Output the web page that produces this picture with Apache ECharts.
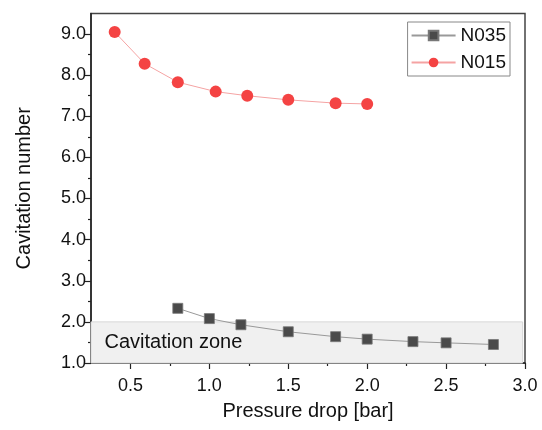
<!DOCTYPE html>
<html><head><meta charset="utf-8">
<script src="https://cdn.jsdelivr.net/npm/echarts@6/dist/echarts.min.js"></script>
<style>html,body{margin:0;padding:0;background:#fff}#c{width:542px;height:430px}</style>
</head><body><div id="c"></div>
<script>
const n035X = [0.8, 1.0, 1.2, 1.5, 1.8, 2.0, 2.29, 2.5, 2.8];
const n035Y = [2.33, 2.08, 1.93, 1.76, 1.64, 1.58, 1.52, 1.49, 1.45];
const n015X = [0.4, 0.59, 0.8, 1.04, 1.24, 1.5, 1.8, 2.0];
const n015Y = [9.05, 8.28, 7.83, 7.60, 7.50, 7.40, 7.32, 7.30];
const xMajor = [0.5, 1.0, 1.5, 2.0, 2.5, 3.0];
const xMinor = [0.75, 1.25, 1.75, 2.25, 2.75];
const yMajor = [1, 2, 3, 4, 5, 6, 7, 8, 9];
const yMinor = [1.5, 2.5, 3.5, 4.5, 5.5, 6.5, 7.5, 8.5];
const zone = {x0: 0.25, x1: 2.985, y0: 1, y1: 2, label: 'Cavitation zone'};

const FONT = 'Liberation Sans';
const axisCol = '#222';
const chart = echarts.init(document.getElementById('c'));
const pairs = (xs, ys) => xs.map((x, i) => [x, ys[i]]);
const xBase = {type: 'value', min: 0.25, max: 3.0, gridIndex: 0};
const yBase = {type: 'value', min: 1.0, max: 9.5, gridIndex: 0};
chart.setOption({
  animation: false,
  textStyle: {fontFamily: FONT},
  grid: {left: 91, top: 13.5, right: 17, bottom: 67, show: true, borderColor: '#444', borderWidth: 1.5, backgroundColor: 'transparent'},
  legend: {
    right: 32, top: 22, orient: 'vertical', itemWidth: 44, itemHeight: 12, itemGap: 8,
    borderColor: '#888', borderWidth: 1, padding: [4, 4, 4, 3],
    textStyle: {fontFamily: FONT, fontSize: 19, color: '#111'},
    data: ['N035', 'N015']
  },
  xAxis: [
    Object.assign({}, xBase, {
      name: 'Pressure drop [bar]', nameLocation: 'middle', nameGap: 38,
      nameTextStyle: {fontFamily: FONT, fontSize: 20, color: '#111'},
      axisLine: {lineStyle: {color: axisCol, width: 1.5}},
      axisTick: {show: true, length: 6, lineStyle: {color: axisCol, width: 1.2}, customValues: xMajor},
      axisLabel: {customValues: xMajor, fontSize: 18, color: '#111', margin: 14, formatter: v => v.toFixed(1)},
      splitLine: {show: false}
    }),
    Object.assign({}, xBase, {
      position: 'bottom',
      axisLine: {show: false},
      axisTick: {show: true, length: 3, lineStyle: {color: axisCol, width: 1.2}, customValues: xMinor},
      axisLabel: {show: false},
      splitLine: {show: false}
    })
  ],
  yAxis: [
    Object.assign({}, yBase, {
      name: 'Cavitation number', nameLocation: 'middle', nameGap: 57,
      nameTextStyle: {fontFamily: FONT, fontSize: 20, color: '#111'},
      axisLine: {lineStyle: {color: axisCol, width: 1.5}},
      axisTick: {show: true, length: 6, lineStyle: {color: axisCol, width: 1.2}, customValues: yMajor},
      axisLabel: {customValues: yMajor, fontSize: 18, color: '#111', margin: 5, formatter: v => v.toFixed(1)},
      splitLine: {show: false}
    }),
    Object.assign({}, yBase, {
      position: 'left',
      axisLine: {show: false},
      axisTick: {show: true, length: 3, lineStyle: {color: axisCol, width: 1.2}, customValues: yMinor},
      axisLabel: {show: false},
      splitLine: {show: false}
    })
  ],
  series: [
    {
      name: 'N035', type: 'line', data: pairs(n035X, n035Y),
      symbol: 'rect', symbolSize: 10,
      itemStyle: {color: '#4a4a4a', borderColor: '#777', borderWidth: 0.8},
      lineStyle: {color: '#999', width: 1},
      z: 3,
      markArea: {
        silent: true,
        itemStyle: {color: '#f0f0f0', borderColor: '#d6d6d6', borderWidth: 1},
        label: {show: true, position: 'insideLeft', distance: 14, fontFamily: FONT, fontSize: 20, color: '#111'},
        data: [[{name: zone.label, coord: [zone.x0, zone.y0]}, {coord: [zone.x1, zone.y1]}]]
      }
    },
    {
      name: 'N015', type: 'line', data: pairs(n015X, n015Y),
      symbol: 'circle', symbolSize: 12,
      itemStyle: {color: '#f44343'},
      lineStyle: {color: '#f5a3a3', width: 1},
      z: 3
    }
  ]
});
</script></body></html>
